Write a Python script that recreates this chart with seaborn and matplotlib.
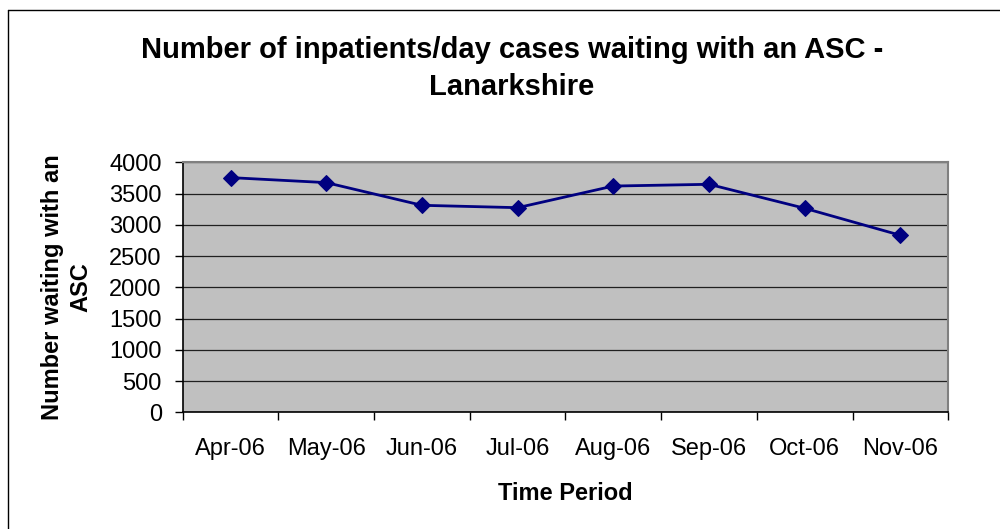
import matplotlib
matplotlib.use("Agg")
import matplotlib.pyplot as plt
import seaborn as sns
import pandas as pd
from matplotlib.lines import Line2D
from matplotlib.ticker import FixedLocator

months = ["Apr-06", "May-06", "Jun-06", "Jul-06", "Aug-06", "Sep-06", "Oct-06", "Nov-06"]
waiting = [3755, 3675, 3312, 3274, 3620, 3648, 3264, 2832]
y_ticks = [0, 500, 1000, 1500, 2000, 2500, 3000, 3500, 4000]

title = "Number of inpatients/day cases waiting with an ASC -\nLanarkshire"
xlabel = "Time Period"
ylabel = "Number waiting with an\nASC"

sns.set_theme(style="white")
plt.rcParams['font.family'] = ['Liberation Sans', 'DejaVu Sans']
plt.rcParams['text.color'] = 'black'
plt.rcParams['axes.labelcolor'] = 'black'
plt.rcParams['xtick.color'] = 'black'
plt.rcParams['ytick.color'] = 'black'

W, H = 1000, 529
fig = plt.figure(figsize=(W / 100, H / 100), dpi=100)
ax = fig.add_axes([182.7 / W, 1 - 412.3 / H, (948.3 - 182.7) / W, (412.3 - 162.3) / H])

df = pd.DataFrame({"month": months, "waiting": waiting})
sns.lineplot(data=df, x="month", y="waiting", ax=ax, color="#000080", linewidth=2.0,
             marker="D", markersize=7.8, markeredgecolor="#000080", sort=False, zorder=5)

ax.set_facecolor("#C0C0C0")
ax.set_xlim(-0.5, len(months) - 0.5)
ax.set_ylim(0, 4000)
ax.set_yticks(y_ticks)
ax.yaxis.grid(True, color="#202020", linewidth=0.9)
ax.xaxis.grid(False)
ax.set_axisbelow(True)

ax.set_xticks(range(len(months)))
ax.set_xticklabels(months)
ax.xaxis.set_minor_locator(FixedLocator([i - 0.5 for i in range(len(months) + 1)]))
ax.tick_params(axis="x", which="major", length=0, pad=18.5, labelsize=17, labelcolor="black")
ax.tick_params(axis="x", which="minor", length=6, width=1, color="black", direction="out", bottom=True)
ax.tick_params(axis="y", which="major", length=5.5, width=1, color="black", direction="out",
               pad=9.5, labelsize=17, labelcolor="black", left=True)

for s in ["left", "bottom"]:
    ax.spines[s].set_color("black")
    ax.spines[s].set_linewidth(1.2)
for s in ["top", "right"]:
    ax.spines[s].set_color("#808080")
    ax.spines[s].set_linewidth(1.5)
    ax.spines[s].set_visible(True)

ax.set_xlabel(xlabel, fontsize=17, fontweight="bold", labelpad=16, color="black")
ax.set_ylabel(ylabel, fontsize=17, fontweight="bold", labelpad=12, linespacing=1.3, color="black")

fig.text(512 / W, 1 - 68.5 / H, title, ha="center", va="center", fontsize=21,
         fontweight="bold", linespacing=1.4, color="black")

# outer chart-area border (top and left visible)
fig.add_artist(Line2D([8 / W, 8 / W], [1 - 10 / H, 0], transform=fig.transFigure, color="black", linewidth=1))
fig.add_artist(Line2D([8 / W, 1], [1 - 10 / H, 1 - 10 / H], transform=fig.transFigure, color="black", linewidth=1))

fig.savefig("out.png", dpi=100)
